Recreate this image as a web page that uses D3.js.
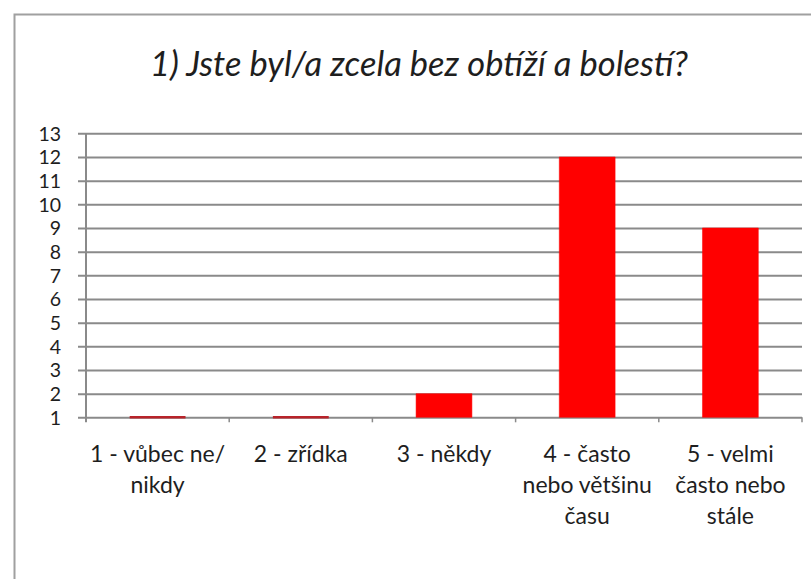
<!DOCTYPE html>
<html>
<head>
<meta charset="utf-8">
<script src="https://cdn.jsdelivr.net/npm/d3@7"></script>
<style>
  html, body { margin: 0; padding: 0; background: #fff; }
  svg { display: block; }
  text { font-family: Lato, "Open Sans", sans-serif; fill: #1e1e1e; }
</style>
</head>
<body>
<svg id="chart" width="811" height="579"></svg>
<script>
// Answers to question 1 (count of respondents per answer)
const title = "1) Jste byl/a zcela bez obtíží a bolestí?";
const categories = [
  "1 - vůbec ne/\nnikdy",
  "2 - zřídka",
  "3 - někdy",
  "4 - často\nnebo většinu\nčasu",
  "5 - velmi\nčasto nebo\nstále"
];
const values = [1, 1, 2, 12, 9];
const yTicks = [1, 2, 3, 4, 5, 6, 7, 8, 9, 10, 11, 12, 13];

const svg = d3.select("#chart");

// Outer chart frame (right and bottom edges run off the page)
svg.append("rect")
  .attr("x", 14.5).attr("y", 14.5)
  .attr("width", 820).attr("height", 600)
  .attr("fill", "none")
  .attr("stroke", "#a0a0a0")
  .attr("stroke-width", 2);

const plot = { left: 86, right: 802, top: 133.3, bottom: 417.3 };

const x = d3.scaleBand()
  .domain(categories)
  .range([plot.left, plot.right])
  .paddingInner(0.61)
  .paddingOuter(0.305);

const xEdges = d3.scaleLinear()
  .domain([0, categories.length])
  .range([plot.left, plot.right]);

const y = d3.scaleLinear()
  .domain([d3.min(yTicks), d3.max(yTicks)])
  .range([plot.bottom, plot.top]);

// Title
svg.append("text")
  .attr("x", 419).attr("y", 76)
  .attr("text-anchor", "middle")
  .style("font-style", "italic")
  .style("font-size", "34.5px")
  .text(title);

// Horizontal gridlines and y axis
const yAxis = d3.axisLeft(y)
  .tickValues(yTicks)
  .tickSize(-(plot.right - plot.left))
  .tickSizeOuter(0)
  .tickPadding(0)
  .tickFormat(d3.format("d"));

const gY = svg.append("g")
  .attr("transform", `translate(${plot.left},0)`)
  .call(yAxis);
gY.select(".domain").remove();
gY.selectAll(".tick line")
  .attr("x1", -8)
  .attr("stroke", "#8a8a8a")
  .attr("stroke-width", 2);
gY.selectAll(".tick text")
  .attr("x", -25)
  .attr("dy", "0.36em")
  .style("font-size", "19.5px")
  .attr("fill", "#1e1e1e");

// Vertical axis line
svg.append("line")
  .attr("x1", plot.left).attr("x2", plot.left)
  .attr("y1", plot.top).attr("y2", plot.bottom + 5)
  .attr("stroke", "#8a8a8a")
  .attr("stroke-width", 2);

// Category tick marks below the baseline
svg.append("g").selectAll("line")
  .data(d3.range(1, categories.length + 1))
  .join("line")
  .attr("x1", d => xEdges(d)).attr("x2", d => xEdges(d))
  .attr("y1", plot.bottom).attr("y2", plot.bottom + 5)
  .attr("stroke", "#8a8a8a")
  .attr("stroke-width", 1.5);

// Bars (paths so that bars at the axis minimum still show as a line)
svg.append("g").selectAll("path")
  .data(values.map((v, i) => ({ v, c: categories[i] })))
  .join("path")
  .attr("d", d => {
    const x0 = x(d.c), x1 = x(d.c) + x.bandwidth();
    const y0 = y(d3.min(yTicks)), y1 = y(d.v);
    return `M${x0},${y0}H${x1}V${y1}H${x0}Z`;
  })
  .attr("fill", "#ff0000")
  .attr("stroke", d => d.v <= d3.min(yTicks) ? "#b8232a" : "#ff0000")
  .attr("stroke-width", d => d.v <= d3.min(yTicks) ? 2.5 : 0.5);

// Category labels, wrapped over several lines
const labels = svg.append("g").selectAll("text")
  .data(categories)
  .join("text")
  .attr("text-anchor", "middle")
  .style("font-size", "23px")
  .attr("transform", d => `translate(${x(d) + x.bandwidth() / 2},462)`);

labels.selectAll("tspan")
  .data(d => d.split("\n"))
  .join("tspan")
  .attr("x", 0)
  .attr("y", (d, i) => i * 31)
  .text(d => d);
</script>
</body>
</html>
